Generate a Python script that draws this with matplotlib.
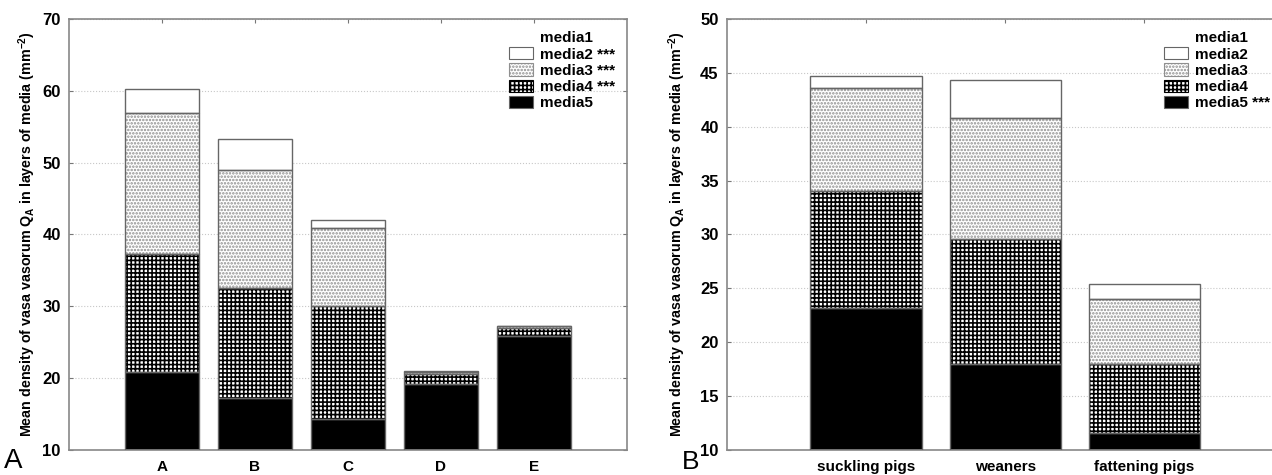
import matplotlib
matplotlib.use("Agg")
import matplotlib.pyplot as plt
from matplotlib.patches import Patch
import numpy as np

plt.rcParams['font.family'] = ['Liberation Sans', 'DejaVu Sans']
plt.rcParams['mathtext.fontset'] = 'custom'
plt.rcParams['mathtext.rm'] = 'Liberation Sans'
plt.rcParams['mathtext.bf'] = 'Liberation Sans:bold'
plt.rcParams['hatch.linewidth'] = 1.2

# ---------- data ----------
groups_a = ['A', 'B', 'C', 'D', 'E']
a_media5 = [20.9, 17.2, 14.3, 19.2, 25.9]
a_media4 = [16.4, 15.4, 15.8, 1.4, 1.1]
a_media3 = [19.6, 16.4, 10.8, 0.3, 0.2]
a_media2 = [3.4, 4.3, 1.1, 0.1, 0.1]
labels_a = ['media1', 'media2 ***', 'media3 ***', 'media4 ***', 'media5']

groups_b = ['suckling pigs', 'weaners', 'fattening pigs']
b_media5 = [23.2, 18.0, 11.6]
b_media4 = [10.8, 11.6, 6.4]
b_media3 = [9.6, 11.2, 6.0]
b_media2 = [1.1, 3.5, 1.4]
labels_b = ['media1', 'media2', 'media3', 'media4', 'media5 ***']

ylabel = "Mean density of vasa vasorum Q$_\\mathbf{A}$ in layers of media (mm$^\\mathbf{-2}$)"

# style per layer: facecolor, hatch colour, hatch
styles = {
    'media5': ('black', 'black', None),
    'media4': ('white', 'black', '++++'),
    'media3': ('white', '#8f8f8f', '.....'),
    'media2': ('white', '#666666', None),
}
edge = '#666666'


def draw_panel(ax, groups, layers, legend_labels, ylim, yticks, leg_xy, label_x):
    x = np.arange(len(groups))
    bottom = np.zeros(len(groups))
    for name, vals in layers:
        fc, hc, hatch = styles[name]
        ax.bar(x, vals, 0.8, bottom=bottom, color=fc, edgecolor=hc,
               hatch=hatch, linewidth=0, zorder=2)
        ax.bar(x, vals, 0.8, bottom=bottom, fill=False, edgecolor=edge,
               linewidth=1.0, zorder=3)
        bottom = bottom + np.array(vals)

    ax.set_xlim(-1, len(groups))
    ax.set_ylim(*ylim)
    ax.set_yticks(yticks)
    ax.set_xticks(x)
    ax.set_xticklabels(groups, fontsize=11, fontweight='bold')
    ax.tick_params(axis='x', length=0, pad=7)
    ax.tick_params(axis='y', direction='in', length=3, right=True,
                   labelsize=12, pad=6, color='#777777')
    for lbl in ax.get_yticklabels():
        lbl.set_fontweight('bold')
    ax.set_ylabel(ylabel, fontsize=10.3, fontweight='bold')
    ax.yaxis.set_label_coords(label_x, 0.5)
    ax.yaxis.grid(True, linestyle=':', color='#c8c8c8', linewidth=0.8)
    ax.set_axisbelow(True)
    for s in ax.spines.values():
        s.set_color('#888888')
        s.set_linewidth(1.2)

    # top ticks at bar centres
    top = ax.secondary_xaxis('top')
    top.set_xticks(x)
    top.set_xticklabels([])
    top.tick_params(direction='in', length=3, color='#777777')
    top.spines['top'].set_visible(False)

    handles = [Patch(facecolor='none', edgecolor='none')]
    for name in ['media2', 'media3', 'media4', 'media5']:
        fc, hc, hatch = styles[name]
        handles.append(Patch(facecolor=fc, edgecolor=hc if hatch else edge,
                             hatch=hatch, linewidth=0.8))
    ax.legend(handles, legend_labels, loc='upper left',
              bbox_to_anchor=leg_xy, bbox_transform=ax.figure.transFigure,
              frameon=False, borderpad=0, borderaxespad=0,
              handlelength=1.6, handleheight=0.85, handletextpad=0.45,
              labelspacing=0.12, prop={'size': 11, 'weight': 'bold'})


fig = plt.figure(figsize=(12.72, 4.75), dpi=100)
W, H = 1272, 475
ax1 = fig.add_axes([69 / W, 1 - 450 / H, (627 - 69) / W, (450 - 19) / H])
ax2 = fig.add_axes([727 / W, 1 - 450 / H, (1283.5 - 727) / W, (450 - 19) / H])

draw_panel(ax1, groups_a,
           [('media5', a_media5), ('media4', a_media4),
            ('media3', a_media3), ('media2', a_media2)],
           labels_a, (10, 70), range(10, 71, 10), (509 / W, 1 - 31 / H),
           (38 - 69) / 558)
draw_panel(ax2, groups_b,
           [('media5', b_media5), ('media4', b_media4),
            ('media3', b_media3), ('media2', b_media2)],
           labels_b, (10, 50), range(10, 51, 5), (1164 / W, 1 - 31 / H),
           (688 - 727) / 556.5)

fig.text(4 / W, 1 - 474 / H, 'A', fontsize=20, va='bottom')
fig.text(682 / W, 1 - 474 / H, 'B', fontsize=19, va='bottom')

fig.savefig('out.png', dpi=100)
